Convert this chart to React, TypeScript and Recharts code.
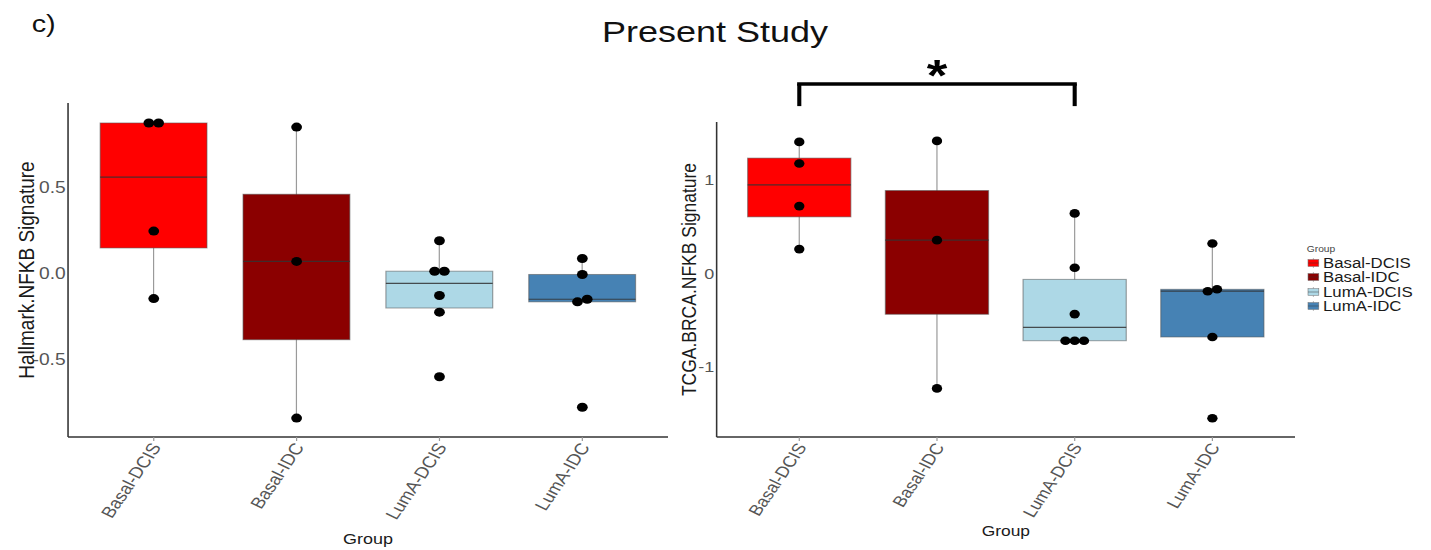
import React from 'react';
import { ComposedChart, Bar, Scatter, XAxis, YAxis, ReferenceLine, Legend, Label } from 'recharts';

const groups = ['Basal-DCIS', 'Basal-IDC', 'LumA-DCIS', 'LumA-IDC'];

// left panel: Hallmark.NFKB signature score per sample
const hallmarkBasalDCIS = [0.874, 0.874, 0.246, -0.146];
const hallmarkBasalIDC = [0.85, 0.07, -0.84];
const hallmarkLumADCIS = [0.19, 0.013, 0.013, -0.128, -0.225, -0.6];
const hallmarkLumAIDC = [0.087, -0.006, -0.15, -0.165, -0.777];
const hallmarkTicks = [-0.5, 0, 0.5];

// right panel: TCGA.BRCA.NFKB signature score per sample
const tcgaBasalDCIS = [1.407, 1.176, 0.72, 0.26];
const tcgaBasalIDC = [1.418, 0.356, -1.23];
const tcgaLumADCIS = [0.642, 0.06, -0.435, -0.72, -0.72, -0.72];
const tcgaLumAIDC = [0.32, -0.17, -0.19, -0.68, -1.55];
const tcgaTicks = [-1, 0, 1];

// significance bracket on the right panel
const sigFrom = 'Basal-DCIS';
const sigTo = 'LumA-DCIS';
const sigLabel = '*';

const palette: Record<string, string> = {
    'Basal-DCIS': '#FF0000',
    'Basal-IDC': '#8B0000',
    'LumA-DCIS': '#ADD8E6',
    'LumA-IDC': '#4682B4',
};

// the original figure was exported stretched sideways, so draw narrow and scale
const STRETCH = 1.2;
const W = 1431 / STRETCH;
const FONT = '"Liberation Sans", Arial, Helvetica, sans-serif';

function quantile(sorted: number[], p: number) {
    const h = (sorted.length - 1) * p;
    const i = Math.floor(h);
    const next = i + 1 < sorted.length ? sorted[i + 1] : sorted[i];
    return sorted[i] + (h - i) * (next - sorted[i]);
}

// same stats as geom_boxplot (type 7 quantiles, 1.5 IQR whiskers)
function boxStats(values: number[][]) {
    return groups.map((g, i) => {
        const s = [...values[i]].sort((a, b) => a - b);
        const q1 = quantile(s, 0.25);
        const med = quantile(s, 0.5);
        const q3 = quantile(s, 0.75);
        const iqr = q3 - q1;
        const lo = Math.min(...s.filter((v) => v >= q1 - 1.5 * iqr));
        const hi = Math.max(...s.filter((v) => v <= q3 + 1.5 * iqr));
        return { group: g, q1, med, q3, lo, hi };
    });
}

// tied values get put side by side, like a centred dotplot
function dotRows(values: number[][]) {
    const rows: { group: string; value: number; dodge: number }[] = [];
    groups.forEach((g, i) => {
        const s = [...values[i]].sort((a, b) => a - b);
        let k = 0;
        while (k < s.length) {
            let j = k;
            while (j + 1 < s.length && s[j + 1] - s[k] < 0.025) j++;
            const n = j - k + 1;
            for (let m = k; m <= j; m++) rows.push({ group: g, value: s[m], dodge: m - k - (n - 1) / 2 });
            k = j + 1;
        }
    });
    return rows;
}

const hallmarkValues = [hallmarkBasalDCIS, hallmarkBasalIDC, hallmarkLumADCIS, hallmarkLumAIDC];
const tcgaValues = [tcgaBasalDCIS, tcgaBasalIDC, tcgaLumADCIS, tcgaLumAIDC];

function BoxShape(props: any) {
    const { x, y, width, height, payload } = props;
    const { lo, hi, q1, med, q3, group } = payload;
    const top = Math.min(y, y + height);
    const h = Math.abs(height);
    const py = (v: number) => top + ((hi - v) / (hi - lo)) * h;
    const cx = x + width / 2;
    return (
        <g>
            <line x1={cx} x2={cx} y1={py(hi)} y2={py(lo)} stroke="#9a9a9a" strokeWidth={1} />
            <rect x={x} y={py(q3)} width={width} height={py(q1) - py(q3)}
                fill={palette[group]} stroke="#555" strokeOpacity={0.55} strokeWidth={1} />
            <line x1={x} x2={x + width} y1={py(med)} y2={py(med)} stroke="#333" strokeOpacity={0.85} strokeWidth={1.2} />
        </g>
    );
}

const dotShape = (r: number) => (p: any) => (
    <circle cx={p.cx + p.payload.dodge * r * 1.8} cy={p.cy} r={r} fill="#000" />
);

const xTick = (fontSize: number) => (p: any) => {
    const ax = p.x + 6.7;
    const ay = p.y + 4;
    return (
        <text x={ax} y={ay} transform={`rotate(-60 ${ax} ${ay})`} textAnchor="end"
            fontSize={fontSize} fill="#555">{p.payload.value}</text>
    );
};

const yTick = (fontSize: number, fmt: (v: number) => string) => (p: any) => (
    <text x={p.x} y={p.y} dy="0.35em" textAnchor="end" fontSize={fontSize} fill="#555">
        {fmt(p.payload.value)}
    </text>
);

const renderLegend = () => (
    <div style={{ fontFamily: FONT }}>
        <div style={{ fontSize: 8.5, color: '#444', height: 13, lineHeight: '13px' }}>Group</div>
        {groups.map((g) => (
            <div key={g} style={{ display: 'flex', alignItems: 'center', height: 14.3 }}>
                <svg width={11} height={10} style={{ display: 'block' }}>
                    <line x1={5.5} x2={5.5} y1={0} y2={10} stroke="#999" strokeWidth={0.6} />
                    <rect x={1} y={1.5} width={9} height={7} fill={palette[g]} stroke="#777" strokeWidth={0.5} />
                    <line x1={1} x2={10} y1={5} y2={5} stroke="#333" strokeOpacity={0.5} strokeWidth={0.8} />
                </svg>
                <span style={{ fontSize: 14, color: '#1a1a1a', marginLeft: 2.5, lineHeight: '14px' }}>{g}</span>
            </div>
        ))}
    </div>
);

export default function App() {
    const hallmarkBoxes = boxStats(hallmarkValues);
    const hallmarkDots = dotRows(hallmarkValues);
    const tcgaBoxes = boxStats(tcgaValues);
    const tcgaDots = dotRows(tcgaValues);

    // bracket sits above the right panel
    const bracketTop = 2.027;
    const bracketFoot = 1.79;

    return (
        <div style={{ position: 'absolute', left: 0, top: 0, width: 1431, height: 550, overflow: 'hidden', background: '#fff' }}>
            <div style={{
                position: 'relative', width: W, height: 550, fontFamily: FONT,
                transform: `scaleX(${STRETCH})`, transformOrigin: '0 0',
            }}>
                <svg width={W} height={550} style={{ position: 'absolute', left: 0, top: 0 }}>
                    <text x={26.4} y={32} fontSize={24} fill="#111">c)</text>
                    <text x={595.8} y={42} fontSize={30} textAnchor="middle" fill="#111">Present Study</text>
                </svg>

                <div style={{ position: 'absolute', left: 0, top: 0 }}>
                    <ComposedChart width={565} height={550} data={hallmarkBoxes} barCategoryGap="12.5%"
                        margin={{ top: 103, right: 8.3, bottom: 3, left: 16.7 }}>
                        <XAxis dataKey="group" type="category" allowDuplicatedCategory={false}
                            padding={{ left: 11.9, right: 11.9 }} height={110}
                            axisLine={{ stroke: '#333', strokeWidth: 1.5 }} tickLine={{ stroke: '#999' }}
                            tickSize={4} tickMargin={2} interval={0} tick={xTick(16)}>
                            <Label value="Group" position="insideBottom" offset={3} fontSize={15} fill="#1a1a1a" />
                        </XAxis>
                        <YAxis type="number" domain={[-0.95, 0.99]} ticks={hallmarkTicks} allowDataOverflow
                            width={40} axisLine={{ stroke: '#333', strokeWidth: 1.3 }} tickLine={false}
                            tickSize={2} tickMargin={0} tick={yTick(16, (v) => v.toFixed(1))}>
                            <Label value="Hallmark.NFKB Signature" angle={-90} position="insideLeft" offset={5}
                                fontSize={19} fill="#1a1a1a" style={{ textAnchor: 'middle' }} />
                        </YAxis>
                        <Bar dataKey={(d: any) => [d.lo, d.hi]} shape={BoxShape} isAnimationActive={false} />
                        <Scatter data={hallmarkDots} dataKey="value" shape={dotShape(4.5)} isAnimationActive={false} />
                    </ComposedChart>
                </div>

                <div style={{ position: 'absolute', left: 560, top: 0 }}>
                    <ComposedChart width={W - 560} height={550} data={tcgaBoxes} barCategoryGap="12.5%"
                        margin={{ top: 122, right: 113.3, bottom: 3, left: 7.2 }}>
                        <XAxis dataKey="group" type="category" allowDuplicatedCategory={false}
                            padding={{ left: 11.5, right: 11.5 }} height={110}
                            axisLine={{ stroke: '#333', strokeWidth: 1.5 }} tickLine={{ stroke: '#999' }}
                            tickSize={4} tickMargin={2} interval={0} tick={xTick(15.5)}>
                            <Label value="Group" position="insideBottom" offset={11} fontSize={14.5} fill="#1a1a1a" />
                        </XAxis>
                        <YAxis type="number" domain={[-1.75, 1.62]} ticks={tcgaTicks} allowDataOverflow
                            width={30} axisLine={{ stroke: '#333', strokeWidth: 1.3 }} tickLine={false}
                            tickSize={2} tickMargin={0} tick={yTick(15, (v) => String(v))}>
                            <Label value="TCGA.BRCA.NFKB Signature" angle={-90} position="insideLeft" offset={7}
                                fontSize={17.5} fill="#1a1a1a" style={{ textAnchor: 'middle' }} />
                        </YAxis>
                        <Bar dataKey={(d: any) => [d.lo, d.hi]} shape={BoxShape} isAnimationActive={false} />
                        <Scatter data={tcgaDots} dataKey="value" shape={dotShape(4.3)} isAnimationActive={false} />
                        <ReferenceLine segment={[{ x: sigFrom, y: bracketTop }, { x: sigTo, y: bracketTop }]}
                            stroke="#000" strokeWidth={3.6} strokeLinecap="square" ifOverflow="visible"
                            label={{ value: sigLabel, position: 'top', offset: -7, fontSize: 44, fontWeight: 'bold', fill: '#000' }} />
                        <ReferenceLine segment={[{ x: sigFrom, y: bracketTop }, { x: sigFrom, y: bracketFoot }]}
                            stroke="#000" strokeWidth={3.4} ifOverflow="visible" />
                        <ReferenceLine segment={[{ x: sigTo, y: bracketTop }, { x: sigTo, y: bracketFoot }]}
                            stroke="#000" strokeWidth={3.4} ifOverflow="visible" />
                        <Legend layout="vertical" align="center" verticalAlign="middle" content={renderLegend}
                            wrapperStyle={{ left: 529, top: 243, width: 'auto', height: 'auto' }} />
                    </ComposedChart>
                </div>
            </div>
        </div>
    );
}
